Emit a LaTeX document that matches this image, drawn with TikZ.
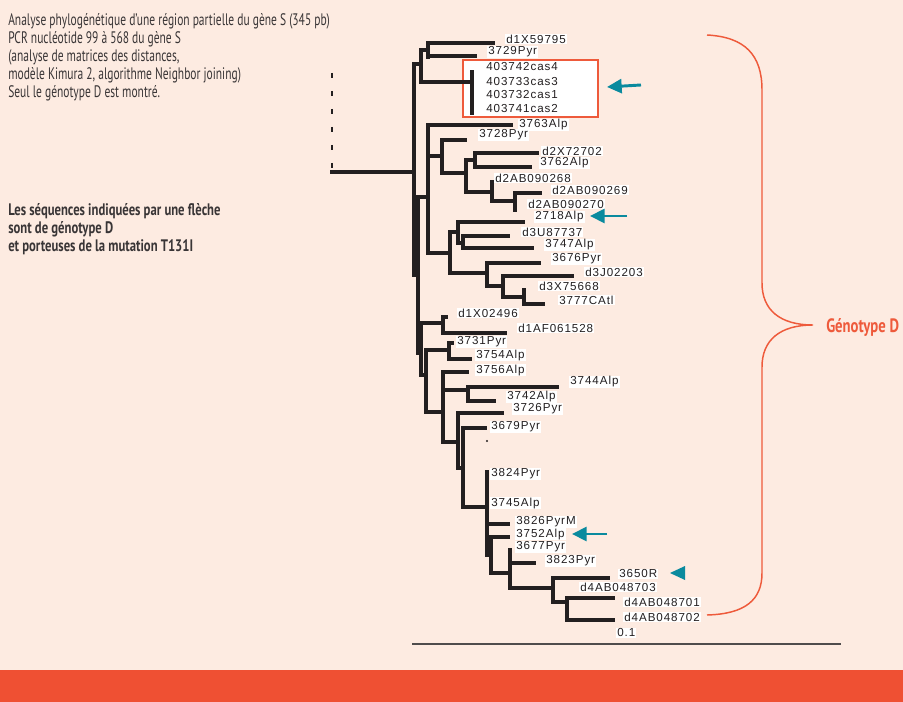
\documentclass[tikz,border=0pt]{standalone}
\usepackage{fontspec}
\setmainfont{Liberation Sans}
\newfontfamily\labf[LetterSpace=8]{Liberation Sans}
\newfontfamily\condf[FakeStretch=0.69]{PT Sans}
\newfontfamily\condbf[FakeStretch=0.76]{PT Sans Bold}
\usetikzlibrary{arrows.meta}
\definecolor{bgc}{HTML}{FDEBE1}
\definecolor{bandc}{HTML}{EF5033}
\definecolor{brc}{HTML}{EE5A3B}
\definecolor{arrowc}{HTML}{0A8A9E}
\definecolor{ink}{HTML}{231F20}
\tikzset{
  br/.style={line width=2.5pt, draw=ink, line cap=rect},
  lab/.style={anchor=west, fill=white, inner sep=0.8pt, text=ink, font=\labf\fontsize{8.7}{9.5}\selectfont},
  ptr/.style={draw=arrowc, line width=2.2pt, -{Triangle[length=11pt,width=10.5pt]}},
  txt/.style={anchor=base west, inner sep=0pt, text=ink!90, font=\condf\fontsize{12.5}{14}\selectfont},
  btxt/.style={anchor=base west, inner sep=0pt, text=ink!90, font=\condbf\fontsize{12.5}{14}\selectfont},
}
\begin{document}
\begin{tikzpicture}[x=0.75pt,y=-0.75pt]
\fill[bgc] (0,0) rectangle (903,702);
\useasboundingbox (0,0) rectangle (903,702);
\fill[bandc] (0,670) rectangle (903,702);
% box
\draw[brc, fill=white, line width=1.1pt] (463,60) rectangle (598,117);
% root dashed
\draw[ink, line width=1pt, dash pattern=on 3.75pt off 9.75pt] (332,73) -- (332,168);
% tree
\draw[br]
 (332,172) -- (414,172)
 (414,64) -- (414,275)
 (414,64) -- (421,64)
 (421,50) -- (421,82)
 (421,50) -- (428,50)
 (428,43) -- (428,57)
 (428,43) -- (493,43)
 (428,56) -- (475,56)
 (421,82) -- (472,82)
 (472,72) -- (472,113)
 (414,275) -- (418,275)
 (418,197) -- (418,353)
 (418,197) -- (428,197)
 (428,125) -- (428,253)
 (428,125) -- (511,125)
 (428,156) -- (442,156)
 (442,140) -- (442,173)
 (442,140) -- (465,140)
 (442,173) -- (466,173)
 (466,160) -- (466,192)
 (466,160) -- (475,160)
 (475,153) -- (475,167)
 (475,153) -- (537,153)
 (475,167) -- (530,167)
 (466,192) -- (492,192)
 (492,182) -- (492,201)
 (492,201) -- (515,201)
 (515,193) -- (515,210)
 (515,193) -- (540,193)
 (428,253) -- (450,253)
 (450,232) -- (450,273)
 (450,232) -- (458,232)
 (458,222) -- (458,243)
 (458,222) -- (523,222)
 (458,243) -- (463,243)
 (463,236) -- (463,248)
 (463,236) -- (508,236)
 (463,248) -- (532,248)
 (450,273) -- (487,273)
 (487,263) -- (487,286)
 (487,263) -- (539,263)
 (487,286) -- (503,286)
 (503,276) -- (503,297)
 (503,276) -- (572,276)
 (503,297) -- (524,297)
 (524,290) -- (524,304)
 (524,304) -- (543,304)
 (418,353) -- (421,353)
 (421,323) -- (421,375)
 (421,323) -- (443,323)
 (443,317) -- (443,333)
 (443,317) -- (446,317)
 (443,333) -- (505,333)
 (421,375) -- (426,375)
 (426,350) -- (426,412)
 (426,350) -- (449,350)
 (449,343) -- (449,359)
 (449,343) -- (452,343)
 (449,359) -- (470,359)
 (426,412) -- (443,412)
 (443,372) -- (443,442)
 (443,372) -- (467,372)
 (443,390) -- (468,390)
 (468,387) -- (468,401)
 (468,387) -- (557,387)
 (468,401) -- (494,401)
 (443,442) -- (458,442)
 (458,413) -- (458,468)
 (458,413) -- (502,413)
 (458,468) -- (463,468)
 (463,428) -- (463,507)
 (463,428) -- (485,428)
 (463,507) -- (487,507)
 (487,472) -- (487,555)
 (487,524) -- (508,524)
 (487,555) -- (491,555)
 (491,537) -- (491,573)
 (491,537) -- (508,537)
 (491,573) -- (510,573)
 (510,550) -- (510,588)
 (510,563) -- (534,563)
 (510,588) -- (553,588)
 (553,578) -- (553,602)
 (553,578) -- (608,578)
 (553,602) -- (567,602)
 (567,598) -- (567,620)
 (567,598) -- (613,598)
 (567,620) -- (613,620);
\fill[ink] (487,441) circle (1.2);
% scale bar
\draw[ink!80, line width=1pt] (412,644) -- (841,644);
% labels
\node[lab] (t01) at (505,39) {d1X59795};
\node[lab] (t02) at (487,52) {3729Pyr};
\node[lab] (t03) at (485,67) {403742cas4};
\node[lab] (t04) at (485,82) {403733cas3};
\node[lab] (t05) at (485,95) {403732cas1};
\node[lab] (t06) at (485,109) {403741cas2};
\node[lab] (t07) at (518,125) {3763Alp};
\node[lab] (t08) at (478,135) {3728Pyr};
\node[lab] (t09) at (541,151) {d2X72702};
\node[lab] (t10) at (539,163) {3762Alp};
\node[lab] (t11) at (494,178) {d2AB090268};
\node[lab] (t12) at (551,190) {d2AB090269};
\node[lab] (t13) at (527,204) {d2AB090270};
\node[lab] (t14) at (534,217) {2718Alp};
\node[lab] (t15) at (521,232) {d3U87737};
\node[lab] (t16) at (544,245) {3747Alp};
\node[lab] (t17) at (551,259) {3676Pyr};
\node[lab] (t18) at (584,272) {d3J02203};
\node[lab] (t19) at (538,286) {d3X75668};
\node[lab] (t20) at (558,300) {3777CAtl};
\node[lab] (t21) at (457,313) {d1X02496};
\node[lab] (t22) at (517,328) {d1AF061528};
\node[lab] (t23) at (456,342) {3731Pyr};
\node[lab] (t24) at (475,355) {3754Alp};
\node[lab] (t25) at (475,370) {3756Alp};
\node[lab] (t26) at (569,382) {3744Alp};
\node[lab] (t27) at (506,397) {3742Alp};
\node[lab] (t28) at (512,409) {3726Pyr};
\node[lab] (t29) at (490,427) {3679Pyr};
\node[lab] (t30) at (490,474) {3824Pyr};
\node[lab] (t31) at (490,503) {3745Alp};
\node[lab] (t32) at (515,522) {3826PyrM};
\node[lab] (t33) at (515,534) {3752Alp};
\node[lab] (t34) at (515,547) {3677Pyr};
\node[lab] (t35) at (545,561) {3823Pyr};
\node[lab] (t36) at (618,574) {3650R};
\node[lab] (t37) at (579,587) {d4AB048703};
\node[lab] (t38) at (623,602) {d4AB048701};
\node[lab] (t39) at (623,617) {d4AB048702};
\node[lab] (t40) at (616,633) {0.1};
% pointers
\coordinate (p1s) at (641,85); \coordinate (p1e) at (607,87);
\coordinate (p2s) at (627,216); \coordinate (p2e) at (590,216);
\coordinate (p3s) at (607,534); \coordinate (p3e) at (572,534);
\draw[ptr] (p1s) -- (p1e);
\draw[ptr] (p2s) -- (p2e);
\draw[ptr] (p3s) -- (p3e);
\fill[arrowc] (670,573) -- (685,566) -- (685,580) -- cycle;
% brace
\draw[brc, line width=1.1pt]
 (707,35) .. controls (745,37) and (762,55) .. (762,90) -- (762,283)
 .. controls (762,310) and (780,325) .. (813,325)
 .. controls (780,325) and (762,340) .. (762,367) -- (762,573)
 .. controls (762,600) and (745,614) .. (707,615);
\node[anchor=base west, inner sep=0pt, text=brc, font=\condbf\fontsize{14.5}{16}\selectfont] (gd) at (826,333) {Génotype D};
% texts
\node[txt] (a1) at (8,26) {Analyse phylogénétique d’une région partielle du gène S (345 pb)};
\node[txt] (a2) at (8,44) {PCR nucléotide 99 à 568 du gène S};
\node[txt] (a3) at (8,62) {(analyse de matrices des distances,};
\node[txt] (a4) at (8,80) {modèle Kimura 2, algorithme Neighbor joining)};
\node[txt] (a5) at (8,98) {Seul le génotype D est montré.};
\node[btxt] (b1) at (8,216) {Les séquences indiquées par une flèche};
\node[btxt] (b2) at (8,234) {sont de génotype D};
\node[btxt] (b3) at (8,252) {et porteuses de la mutation T131I};
\end{tikzpicture}
\end{document}
